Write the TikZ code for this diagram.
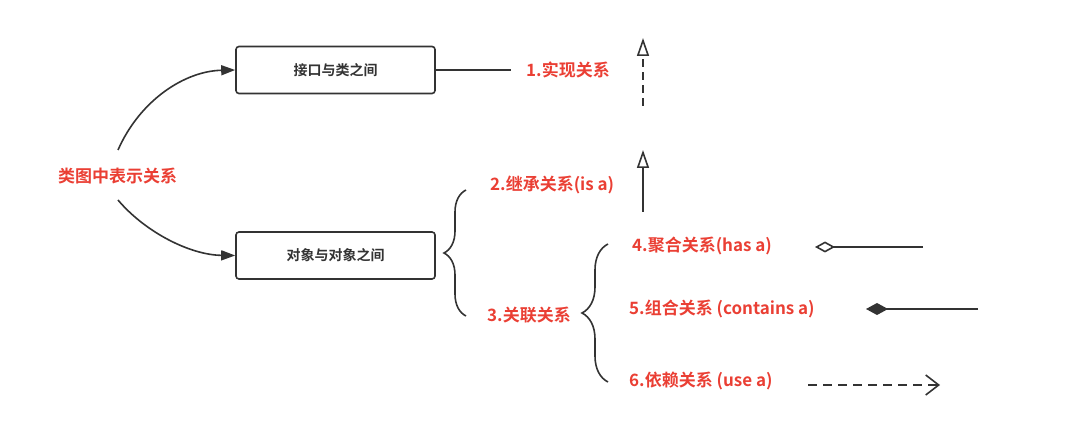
\documentclass[tikz,border=0pt]{standalone}
\usepackage{xcolor}
\usepackage{fontspec}
\usepackage{tikz}
\usetikzlibrary{arrows.meta,decorations.pathreplacing}
\newfontfamily\cjk{Noto Sans CJK SC}[BoldFont={Noto Sans CJK SC Bold}]
\definecolor{ink}{HTML}{333333}
\definecolor{hot}{HTML}{EA3F34}
\tikzset{
  line/.style={draw=ink, line width=1.6pt},
  box/.style={draw=ink, line width=1.6pt, rounded corners=3pt, minimum width=199pt, minimum height=47pt, font=\cjk\bfseries\fontsize{14}{16}\selectfont, text=ink},
  rel/.style={anchor=west, inner sep=0pt, text=hot, font=\cjk\bfseries\fontsize{17}{20}\selectfont},
  bracepath/.style={draw=ink, line width=1.6pt, decorate, decoration={brace, amplitude=#1}}
}
\begin{document}
\begin{tikzpicture}[x=1pt,y=-1pt]
  \useasboundingbox (0,0) rectangle (1076,430);
  % left part
  \node[rel] (main) at (58,176) {类图中表示关系};
  \node[box] (iface) at (335.5,70) {接口与类之间};
  \node[box] (objs) at (335.5,255.5) {对象与对象之间};
  \coordinate (mtop) at (118,150);
  \coordinate (mbot) at (118,200);
  \draw[line, -{Triangle[length=14pt,width=10pt]}] (mtop) .. controls (140,100) and (185,71) .. (iface.west);
  \draw[line, -{Triangle[length=14pt,width=10pt]}] (mbot) .. controls (145,232) and (190,255) .. (objs.west);
  % relation labels
  \node[rel] (impl) at (526,70) {1.实现关系};
  \node[rel] (inh) at (490,185) {2.继承关系(is a)};
  \node[rel] (asc) at (487,315) {3.关联关系};
  \node[rel] (agg) at (632,246) {4.聚合关系(has a)};
  \node[rel] (cmp) at (629,309) {5.组合关系 (contains a)};
  \node[rel] (dep) at (629,381) {6.依赖关系 (use a)};
  \draw[line, shorten >=15pt] (iface.east) -- (impl.west);
  % braces
  \coordinate (b1s) at (466,316);
  \coordinate (b1e) at (466,190);
  \draw[bracepath=22pt] (b1s) -- (b1e);
  \coordinate (b2s) at (608,382);
  \coordinate (b2e) at (608,244);
  \draw[bracepath=26pt] (b2s) -- (b2e);
  % uml symbols
  \coordinate (r1a) at (643,106);
  \coordinate (r1b) at (643,38);
  \draw[line, dash pattern=on 8pt off 5pt, -{Triangle[open,length=18pt,width=12pt]}] (r1a) -- (r1b);
  \coordinate (r2a) at (643,212);
  \coordinate (r2b) at (643,150);
  \draw[line, -{Triangle[open,length=18pt,width=12pt]}] (r2a) -- (r2b);
  \coordinate (r4a) at (923,247);
  \coordinate (r4b) at (815,247);
  \draw[line, -{Diamond[open,length=20pt,width=11pt]}] (r4a) -- (r4b);
  \coordinate (r5a) at (978,309);
  \coordinate (r5b) at (866,309);
  \draw[line, -{Diamond[length=22pt,width=12pt]}] (r5a) -- (r5b);
  \coordinate (r6a) at (808,385);
  \coordinate (r6b) at (940,385);
  \draw[line, dash pattern=on 9pt off 6pt, -{Straight Barb[length=13pt,width=20pt]}] (r6a) -- (r6b);
\end{tikzpicture}
\end{document}
